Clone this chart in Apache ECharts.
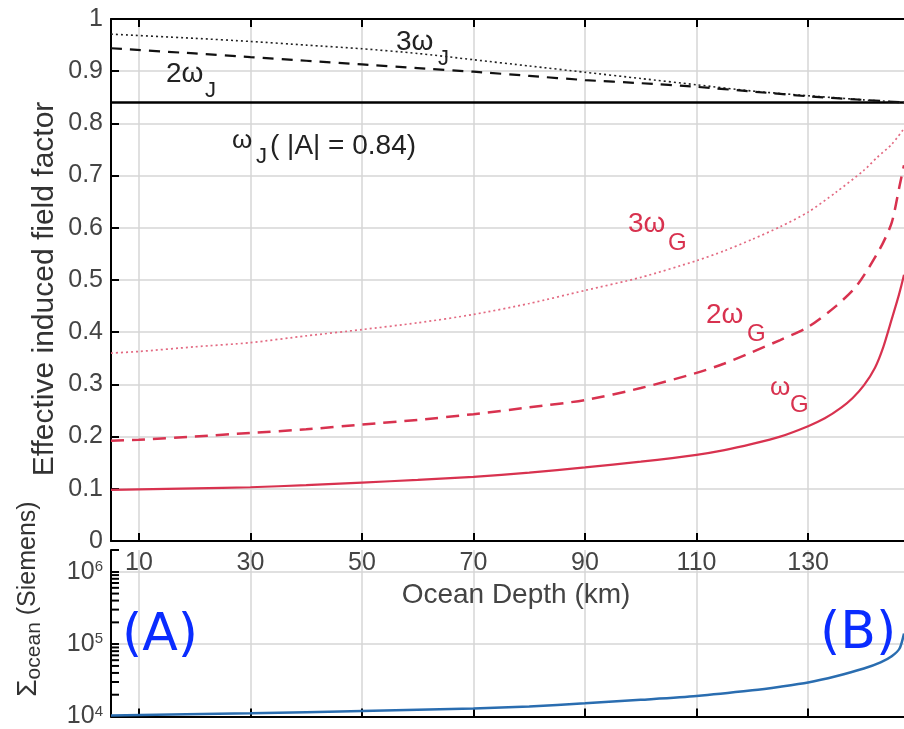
<!DOCTYPE html>
<html><head><meta charset="utf-8">
<script src="https://cdn.jsdelivr.net/npm/echarts@6/dist/echarts.min.js"></script>
<style>html,body{margin:0;padding:0;background:#fff}#c{width:904px;height:729px}</style>
</head><body><div id="c"></div>
<script>
// ---- data ----
const depthTicks = [10, 30, 50, 70, 90, 110, 130];
const logMinorTicks = [2e4,3e4,4e4,5e4,6e4,7e4,8e4,9e4,2e5,3e5,4e5,5e5,6e5,7e5,8e5,9e5,2e6];

const depthG1 = [5,10,20,30,40,50,60,70,80,90,100,110,115,120,125,130,133,136,138,140,142,143.5,145,146.3,147.2];
const omegaG1 = [0.098,0.099,0.101,0.103,0.107,0.112,0.117,0.123,0.131,0.141,0.152,0.165,0.174,0.186,0.200,0.220,0.235,0.256,0.274,0.298,0.332,0.372,0.425,0.472,0.510];

const depthG2 = [5,10,20,30,40,50,60,70,80,90,100,110,115,120,125,130,135,138.8,142.9,145,146.4,147.2];
const omegaG2 = [0.192,0.194,0.200,0.207,0.214,0.223,0.232,0.243,0.256,0.270,0.293,0.322,0.340,0.362,0.385,0.410,0.450,0.490,0.560,0.610,0.680,0.720];

const depthG3 = [5,10,20,30,40,50,60,70,80,90,100,110,115,120,125,130,135,140,142.4,145,147.2];
const omegaG3 = [0.360,0.363,0.372,0.380,0.393,0.405,0.418,0.434,0.455,0.480,0.505,0.537,0.556,0.578,0.602,0.630,0.668,0.710,0.735,0.760,0.790];

const depthJ = [5,20,30,40,50,60,70,80,90,100,110,120,130,140,147.2];
const omegaJ3 = [0.971,0.963,0.957,0.950,0.943,0.934,0.922,0.910,0.898,0.886,0.874,0.862,0.853,0.845,0.840];
const omegaJ2 = [0.944,0.934,0.927,0.920,0.913,0.906,0.899,0.891,0.883,0.877,0.870,0.861,0.852,0.845,0.840];
const omegaJ1Level = 0.84;

const depthS = [5,30,50,70,80,90,100,110,120,125,130,135,140,143,145,146.4,147.2];
const sigmaOcean = [1.03e4,1.11e4,1.19e4,1.29e4,1.38e4,1.52e4,1.70e4,1.92e4,2.3e4,2.58e4,2.95e4,3.6e4,4.6e4,5.6e4,6.8e4,8.7e4,1.4e5];

// ---- chart ----
const FF = '"Liberation Sans", Arial, sans-serif';
const zip = (a, b) => a.map((v, i) => [v, b[i]]);
const chart = echarts.init(document.getElementById('c'));
const red = '#d8324f';
const axisLineStyle = { color: '#000', width: 2 };
const gridLineStyle = { color: '#d6d6d6', width: 1.5 };

function lineSeries(name, xs, ys, style, extra) {
  return Object.assign({
    type: 'line', name, data: zip(xs, ys), showSymbol: false, symbol: 'none',
    smooth: 0.25, lineStyle: style, silent: true, animation: false,
    xAxisIndex: 0, yAxisIndex: 0, z: 5
  }, extra || {});
}

function label(text, x, y, size, color, extra) {
  return Object.assign({ type: 'text', x, y, silent: true, z: 100,
    style: { text, fontSize: size, fill: color, fontFamily: FF, align: 'left', verticalAlign: 'middle' } }, extra || {});
}

const option = {
  backgroundColor: '#fff',
  animation: false,
  grid: [
    { left: 111, top: 19, right: 0, height: 522 },
    { left: 111, top: 550, right: 0, bottom: 3 }
  ],
  xAxis: [
    { gridIndex: 0, type: 'value', min: 5, max: 147.2, position: 'bottom',
      axisLine: { show: true, lineStyle: axisLineStyle, onZero: false },
      axisTick: { show: true, inside: true, length: 8, customValues: depthTicks, lineStyle: { color: '#000', width: 2 } },
      axisLabel: { show: true, customValues: depthTicks, fontSize: 25, color: '#444', fontFamily: FF, margin: 10 },
      splitLine: { show: true, lineStyle: gridLineStyle },
      name: 'Ocean Depth (km)', nameLocation: 'middle', nameGap: 34,
      nameTextStyle: { fontSize: 28, color: '#444', fontFamily: FF, padding: [0, 0, 0, 17] } },
    { gridIndex: 0, type: 'value', min: 5, max: 147.2, position: 'top',
      axisLine: { show: true, lineStyle: axisLineStyle, onZero: false },
      axisTick: { show: true, inside: true, length: 8, customValues: depthTicks, lineStyle: { color: '#000', width: 2 } },
      axisLabel: { show: false }, splitLine: { show: false } },
    { gridIndex: 1, type: 'value', min: 5, max: 147.2, position: 'bottom',
      axisLine: { show: true, lineStyle: axisLineStyle, onZero: false },
      axisTick: { show: true, inside: true, length: 8, customValues: depthTicks, lineStyle: { color: '#000', width: 2 } },
      axisLabel: { show: false },
      splitLine: { show: true, lineStyle: gridLineStyle } }
  ],
  yAxis: [
    { gridIndex: 0, type: 'value', min: 0, max: 1, interval: 0.1,
      axisLine: { show: true, lineStyle: axisLineStyle },
      axisTick: { show: true, inside: true, length: 8, lineStyle: { color: '#000', width: 2 } },
      axisLabel: { fontSize: 25, color: '#444', fontFamily: FF, margin: 8,
        formatter: v => (Math.abs(v) < 1e-9 ? '0' : Math.abs(v - 1) < 1e-9 ? '1' : (+v).toFixed(1)) },
      splitLine: { show: true, lineStyle: gridLineStyle } },
    { gridIndex: 1, type: 'log', logBase: 10, min: 1e4, max: 2e6,
      axisLine: { show: true, lineStyle: axisLineStyle },
      axisTick: { show: true, inside: true, length: 8, lineStyle: { color: '#000', width: 2 } },
      axisLabel: { fontSize: 25, color: '#444', fontFamily: FF, margin: 8,
        formatter: v => {
          const e = Math.log10(v);
          if (Math.abs(e - Math.round(e)) > 1e-6 || v > 1.5e6) return '';
          return '{b|10}{s|' + Math.round(e) + '}';
        },
        rich: { b: { fontSize: 25, color: '#444', fontFamily: FF, lineHeight: 25 },
                s: { fontSize: 15, color: '#444', fontFamily: FF, verticalAlign: 'top', lineHeight: 12 } } },
      splitLine: { show: true, showMaxLine: false, lineStyle: gridLineStyle } }
  ],
  series: [
    lineSeries('3ωJ', depthJ, omegaJ3, { color: '#222', width: 1.6, type: [2, 3] }, {
      markLine: { silent: true, symbol: 'none', label: { show: false },
        lineStyle: { color: '#000', width: 2.5, type: 'solid' },
        data: [{ yAxis: omegaJ1Level }] } }),
    lineSeries('2ωJ', depthJ, omegaJ2, { color: '#111', width: 2.2, type: [11, 8] }),
    lineSeries('3ωG', depthG3, omegaG3, { color: '#e36a82', width: 1.7, type: [2, 3] }),
    lineSeries('2ωG', depthG2, omegaG2, { color: red, width: 2.5, type: [13, 8] }),
    lineSeries('ωG', depthG1, omegaG1, { color: red, width: 2.2, type: 'solid' }),
    lineSeries('Σocean', depthS, sigmaOcean, { color: '#2a6db0', width: 2.5, type: 'solid' },
      { xAxisIndex: 2, yAxisIndex: 1 }),
    { type: 'scatter', name: 'minor', xAxisIndex: 2, yAxisIndex: 1, silent: true, animation: false, z: 6,
      clip: false, data: logMinorTicks.map(v => [5, v]),
      symbol: 'rect', symbolSize: [8, 2], symbolOffset: [4, 0],
      itemStyle: { color: '#000', opacity: 1 } }
  ],
  graphic: [
    { type: 'text', x: 45, y: 289, rotation: Math.PI / 2, silent: true, z: 100,
      style: { text: 'Effective induced field factor', fontSize: 30, fill: '#333', fontFamily: FF, align: 'center', verticalAlign: 'middle' } },
    { type: 'text', x: 28, y: 599, rotation: Math.PI / 2, silent: true, z: 100,
      style: { text: '{a|Σ}{b|ocean}{c| (Siemens)}', align: 'center', verticalAlign: 'middle',
        rich: { a: { fontSize: 28, fill: '#333', fontFamily: FF, lineHeight: 34 },
                b: { fontSize: 21, fill: '#333', fontFamily: FF, verticalAlign: 'bottom', lineHeight: 20 },
                c: { fontSize: 25, fill: '#333', fontFamily: FF, lineHeight: 34 } } } },
    label('3ω', 396, 42, 28, '#222'), label('J', 438, 59, 22, '#222'),
    label('2ω', 166, 74, 28, '#222'), label('J', 205, 91, 22, '#222'),
    label('ω', 232, 141, 26, '#222'), label('J', 256, 157, 22, '#222'),
    label('( |A| = 0.84)', 270, 146, 28, '#222'),
    label('3ω', 628, 224, 28, red), label('G', 668, 243, 24, red),
    label('2ω', 706, 315, 28, red), label('G', 747, 334, 24, red),
    label('ω', 770, 388, 26, red), label('G', 790, 405, 24, red),
    { type: 'text', x: 122, y: 636, silent: true, z: 100,
      style: { text: '(A)', fontSize: 52, fill: '#0a2cff', fontFamily: '"DejaVu Sans", sans-serif', align: 'left', verticalAlign: 'middle' } },
    { type: 'text', x: 820, y: 634, silent: true, z: 100,
      style: { text: '(B)', fontSize: 52, fill: '#0a2cff', fontFamily: '"DejaVu Sans", sans-serif', align: 'left', verticalAlign: 'middle' } }
  ]
};
chart.setOption(option);
</script></body></html>
